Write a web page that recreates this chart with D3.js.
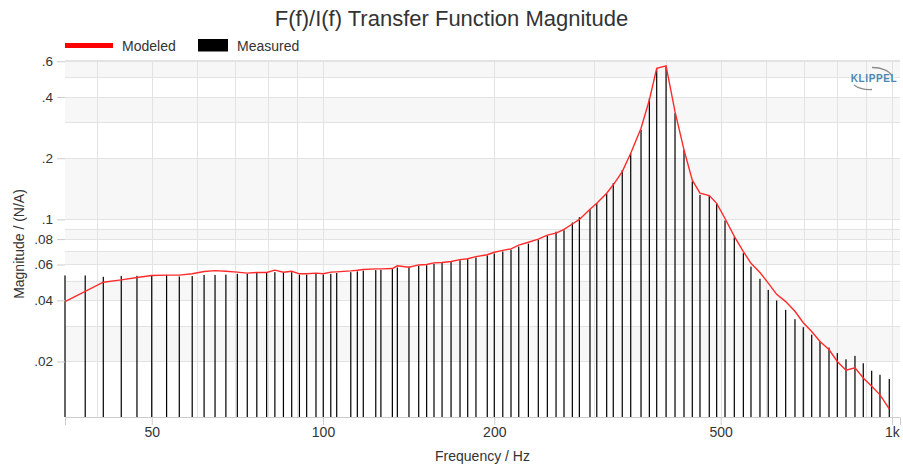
<!DOCTYPE html>
<html>
<head>
<meta charset="utf-8">
<script src="https://cdn.jsdelivr.net/npm/d3@7"></script>
<style>
  body { margin: 0; background: #fff; }
  svg { display: block; font-family: "Liberation Sans", Arial, Helvetica, sans-serif; }
</style>
</head>
<body>
<svg id="chart" width="903" height="468"></svg>
<script>
// frequencies (Hz) of the measured points
const frequencies = [
  35.2, 38.2, 41.1, 44.2, 47.1, 50.0, 53.1, 55.9, 58.9, 61.8, 64.6, 67.5, 70.7, 73.6, 76.5, 79.6,
  82.3, 85.2, 88.1, 90.9, 93.6, 97.2, 100.1, 103.2, 105.7, 111.9, 114.9, 117.7, 123.8, 126.4,
  132.4, 135.1, 141.6, 147.3, 152.1, 156.7, 161.9, 167.9, 174.1, 179.6, 185.7, 194.4, 200.0,
  207.0, 214.0, 220.8, 229.6, 239.0, 247.9, 256.8, 265.2, 274.3, 282.2, 294.6, 302.8, 315.2,
  323.7, 335.7, 347.4, 362.2, 374.6, 385.9, 400.8, 415.6, 431.0, 445.7, 459.8, 477.4, 491.9,
  508.8, 528.3, 548.0, 565.2, 586.1, 606.1, 627.1, 650.4, 675.3, 698.4, 722.6, 747.3, 775.0,
  801.5, 830.2, 860.9, 890.3, 921.1, 952.6, 989.1
];
// Measured magnitude (N/A), drawn as thin bars
const measured = [
  0.053, 0.053, 0.0522, 0.0527, 0.0528, 0.0533, 0.0533, 0.0524, 0.0526, 0.0533, 0.0533, 0.0535, 0.054, 0.054, 0.0545, 0.0545,
  0.055, 0.0545, 0.055, 0.0535, 0.0535, 0.054, 0.0535, 0.054, 0.0545, 0.055, 0.0555, 0.056, 0.0563, 0.0565,
  0.057, 0.058, 0.0585, 0.059, 0.0595, 0.0605, 0.061, 0.0618, 0.063, 0.064, 0.065, 0.0665, 0.068,
  0.0695, 0.071, 0.0735, 0.076, 0.0795, 0.083, 0.087, 0.0885, 0.0965, 0.1025, 0.112, 0.12, 0.134,
  0.1508, 0.175, 0.2116, 0.276, 0.394, 0.554, 0.564, 0.333, 0.22, 0.154, 0.132, 0.131, 0.12,
  0.0987, 0.0818, 0.0682, 0.0586, 0.051, 0.045, 0.0399, 0.0359, 0.0323, 0.0295, 0.0271, 0.0251, 0.0234,
  0.022, 0.0205, 0.0213, 0.0196, 0.018, 0.0172, 0.0164
];
// Modeled magnitude (N/A), drawn as the red curve
const modeled = [
  0.0394, 0.0442, 0.0491, 0.0504, 0.0518, 0.053, 0.0532, 0.0532, 0.054, 0.0554, 0.056, 0.0556, 0.055, 0.0544, 0.0548, 0.0548,
  0.0563, 0.055, 0.0556, 0.054, 0.054, 0.0544, 0.054, 0.055, 0.0552, 0.0558, 0.0562, 0.0567, 0.0571, 0.0571,
  0.0573, 0.0591, 0.0582, 0.0597, 0.06, 0.0611, 0.0614, 0.0621, 0.0634, 0.064, 0.0656, 0.067, 0.0689,
  0.0704, 0.0716, 0.0747, 0.0772, 0.08, 0.0837, 0.0856, 0.0894, 0.0949, 0.1, 0.1123, 0.12, 0.1346,
  0.148, 0.172, 0.2116, 0.281, 0.387, 0.554, 0.569, 0.339, 0.22, 0.156, 0.1346, 0.131, 0.12,
  0.101, 0.0825, 0.0695, 0.0608, 0.0548, 0.0486, 0.0428, 0.0394, 0.0353, 0.031, 0.0281, 0.0251, 0.0229,
  0.02, 0.0181, 0.0186, 0.0166, 0.0151, 0.0137, 0.0117
];

const xTicks = [50, 100, 200, 500, 1000];
const xTickLabels = ["50", "100", "200", "500", "1k"];
const xGrid = [40, 50, 60, 70, 80, 90, 100, 200, 300, 400, 500, 600, 700, 800, 900, 1000];
const yTicks = [0.6, 0.4, 0.2, 0.1, 0.08, 0.06, 0.04, 0.02];
const yTickLabels = [".6", ".4", ".2", ".1", ".08", ".06", ".04", ".02"];
const yGrid = [0.6, 0.5, 0.4, 0.3, 0.2, 0.1, 0.09, 0.08, 0.07, 0.06, 0.05, 0.04, 0.03, 0.02];

let svg = d3.select("#chart"),
  plotLeft = 65,
  plotRight = 900,
  plotTop = 60,
  plotBottom = 417;

let x = d3.scaleLog().domain([35.2, 1033]).range([plotLeft, plotRight]);
let y = d3.scaleLog().domain([0.01066, 0.6086]).range([plotBottom, plotTop]);

// alternate bands between grid lines
let bands = [];
for (let i = 0; i < yGrid.length; i += 2) {
  let hi = yGrid[i], lo = i + 1 < yGrid.length ? yGrid[i + 1] : y.domain()[0];
  bands.push([hi, lo]);
}
svg.append("g")
  .selectAll("rect")
  .data(bands)
  .enter()
  .append("rect")
  .attr("x", plotLeft)
  .attr("width", plotRight - plotLeft)
  .attr("y", (d) => y(d[0]))
  .attr("height", (d) => y(d[1]) - y(d[0]))
  .attr("fill", "#f7f7f7");

// grid
svg.append("g")
  .selectAll("line")
  .data(yGrid)
  .enter()
  .append("line")
  .attr("x1", plotLeft)
  .attr("x2", plotRight)
  .attr("y1", (d) => Math.round(y(d)) + 0.5)
  .attr("y2", (d) => Math.round(y(d)) + 0.5)
  .attr("stroke", "#e3e3e3");

svg.append("g")
  .selectAll("line")
  .data(xGrid)
  .enter()
  .append("line")
  .attr("x1", (d) => Math.round(x(d)) + 0.5)
  .attr("x2", (d) => Math.round(x(d)) + 0.5)
  .attr("y1", plotTop)
  .attr("y2", plotBottom)
  .attr("stroke", "#e3e3e3");

svg.append("line")
  .attr("x1", plotLeft)
  .attr("x2", plotRight)
  .attr("y1", plotTop + 0.5)
  .attr("y2", plotTop + 0.5)
  .attr("stroke", "#e3e3e3");

// measured bars
svg.append("g")
  .selectAll("rect")
  .data(frequencies)
  .enter()
  .append("rect")
  .attr("x", (d) => x(d) - 0.6)
  .attr("width", 1.2)
  .attr("y", (d, i) => y(measured[i]))
  .attr("height", (d, i) => plotBottom - y(measured[i]))
  .attr("fill", "#000");

// modeled curve
let line = d3.line()
  .x((d) => x(d))
  .y((d, i) => y(modeled[i]));

svg.append("path")
  .datum(frequencies)
  .attr("d", line)
  .attr("fill", "none")
  .attr("stroke", "#ff2b2b")
  .attr("stroke-width", 1.4);

// axes
let xAxis = d3.axisBottom(x)
  .tickValues(xTicks)
  .tickFormat((d, i) => xTickLabels[i])
  .tickSize(8)
  .tickPadding(2);
let gx = svg.append("g")
  .attr("transform", "translate(0," + plotBottom + ")")
  .call(xAxis);
gx.select(".domain").attr("stroke", "#ccc");
gx.selectAll(".tick line").attr("stroke", "#ccc");
gx.selectAll("text").attr("font-size", "14px").attr("fill", "#333").attr("font-family", null);

let yAxis = d3.axisLeft(y)
  .tickValues(yTicks)
  .tickFormat((d, i) => yTickLabels[i])
  .tickSize(8)
  .tickPadding(4);
let gy = svg.append("g")
  .attr("transform", "translate(" + plotLeft + ",0)")
  .call(yAxis);
gy.select(".domain").remove();
gy.selectAll(".tick line").attr("stroke", "#ccc");
gy.selectAll("text").attr("font-size", "13.5px").attr("fill", "#333").attr("font-family", null);

// titles
svg.append("text")
  .attr("x", 451.5)
  .attr("y", 26)
  .attr("text-anchor", "middle")
  .attr("font-size", "22px")
  .attr("fill", "#333")
  .text("F(f)/I(f) Transfer Function Magnitude");

svg.append("text")
  .attr("x", (plotLeft + plotRight) / 2)
  .attr("y", 461)
  .attr("text-anchor", "middle")
  .attr("font-size", "14px")
  .attr("fill", "#333")
  .text("Frequency / Hz");

svg.append("text")
  .attr("transform", "translate(24,244) rotate(-90)")
  .attr("text-anchor", "middle")
  .attr("font-size", "14px")
  .attr("fill", "#333")
  .text("Magnitude / (N/A)");

// legend
let legend = svg.append("g");
legend.append("line")
  .attr("x1", 65).attr("x2", 113)
  .attr("y1", 45.5).attr("y2", 45.5)
  .attr("stroke", "red")
  .attr("stroke-width", 5);
legend.append("text")
  .attr("x", 122).attr("y", 50.5)
  .attr("font-size", "14px").attr("fill", "#333")
  .text("Modeled");
legend.append("rect")
  .attr("x", 198).attr("y", 39)
  .attr("width", 30).attr("height", 12.5)
  .attr("fill", "#000");
legend.append("text")
  .attr("x", 237).attr("y", 50.5)
  .attr("font-size", "14px").attr("fill", "#333")
  .text("Measured");

// logo: text with two elliptic swooshes
let logo = svg.append("g").attr("transform", "translate(873,78)");
logo.append("path")
  .attr("d", "M -1 -10.5 A 20 11 0 0 1 19 -2")
  .attr("fill", "none")
  .attr("stroke", "#8c8c8c")
  .attr("stroke-width", 1.3);
logo.append("path")
  .attr("d", "M -1 11.5 A 20 11 0 0 1 -19 7")
  .attr("fill", "none")
  .attr("stroke", "#8c8c8c")
  .attr("stroke-width", 1.3);
logo.append("text")
  .attr("x", 1)
  .attr("y", 4)
  .attr("text-anchor", "middle")
  .attr("font-size", "10px")
  .attr("font-weight", "bold")
  .attr("letter-spacing", "0.6px")
  .attr("fill", "#4b86b8")
  .text("KLIPPEL");
</script>
</body>
</html>
